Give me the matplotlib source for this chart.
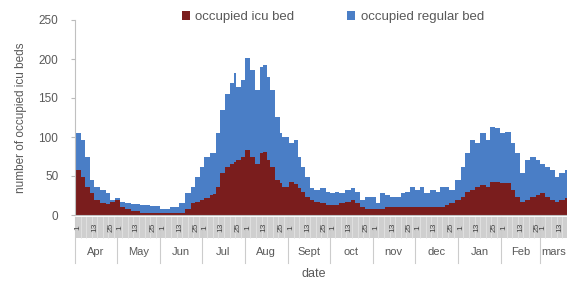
import matplotlib
matplotlib.use("Agg")
import matplotlib.pyplot as plt
import numpy as np

# day offsets from 1 April
days = [0, 4, 7, 11, 14, 18, 22, 25, 29, 32, 36, 40, 47, 54, 61, 68, 75, 79, 83, 86,
        90, 93, 97, 99, 101, 104, 108, 111, 114, 116, 119, 122, 126, 129, 133, 135, 138, 140, 144, 147,
        149, 154, 157, 160, 162, 165, 169, 172, 176, 180, 183, 187, 190, 194, 198, 201, 205, 208, 212, 216,
        219, 223, 226, 230, 234, 237, 241, 244, 248, 251, 255, 259, 262, 266, 269, 273, 277, 280, 284, 287,
        291, 295, 298, 302, 305, 309, 313, 316, 320, 323, 327, 331, 334, 338, 341, 345, 348, 352]
total_beds = [105, 96, 74, 45, 36, 32, 28, 19, 22, 17, 16, 14, 13, 12, 8, 10, 15, 28, 36, 49,
              62, 74, 79, 79, 105, 135, 155, 169, 182, 164, 173, 201, 186, 160, 190, 192, 177, 160, 126, 105,
              100, 92, 96, 74, 62, 49, 35, 32, 35, 30, 28, 30, 28, 32, 35, 30, 19, 23, 23, 15,
              28, 26, 23, 23, 28, 30, 36, 32, 36, 28, 32, 30, 36, 36, 32, 45, 62, 79, 96, 92,
              105, 96, 113, 111, 105, 106, 92, 79, 54, 70, 74, 70, 66, 62, 58, 49, 54, 58]
icu_beds = [58, 49, 36, 28, 19, 15, 14, 17, 19, 10, 8, 5, 3, 3, 3, 3, 3, 8, 15, 17,
            19, 22, 26, 27, 36, 54, 62, 66, 68, 70, 74, 83, 74, 66, 79, 81, 70, 62, 45, 41,
            36, 42, 40, 35, 30, 23, 19, 17, 15, 13, 13, 13, 15, 17, 19, 15, 10, 8, 8, 8,
            8, 10, 10, 10, 10, 10, 10, 10, 10, 10, 10, 10, 10, 13, 15, 19, 23, 30, 32, 36,
            38, 36, 42, 42, 41, 41, 32, 23, 17, 19, 23, 26, 28, 23, 19, 17, 19, 22]
regular_beds = [t - i for t, i in zip(total_beds, icu_beds)]

months = ["Apr", "May", "Jun", "Jul", "Aug", "Sept", "oct", "nov", "dec", "Jan", "Feb", "mars"]
month_lengths = [30, 31, 30, 31, 31, 30, 31, 30, 31, 31, 28, 31]
day_ticks = [1, 13, 25]
yticks = [0, 50, 100, 150, 200, 250]

ICU = "#7a1d1d"
REG = "#4a7ec6"
TXT = "#595959"

plt.rcParams['font.family'] = ['Liberation Sans', 'DejaVu Sans']

fig = plt.figure(figsize=(5.67, 2.83), dpi=100)
ax = fig.add_axes([75/567, 68/283, 1 - 75/567, 195/283])

x = np.array(days + [days[-1] + 3])
icu = np.array(icu_beds + [icu_beds[-1]])
reg = np.array(regular_beds + [regular_beds[-1]])
ax.fill_between(x, 0, icu, step="post", color=ICU, linewidth=0, label="occupied icu bed")
ax.fill_between(x, icu, icu + reg, step="post", color=REG, linewidth=0, label="occupied regular bed")

xmax = (567 - 75) / 1.392
ax.set_xlim(0, xmax)
ax.set_ylim(0, 250)
ax.set_yticks(yticks)
ax.set_yticklabels([str(v) for v in yticks], fontsize=8.5, color=TXT)
ax.tick_params(axis='y', length=3, color="#bbbbbb", pad=9)
ax.set_xticks([])
for s in ["top", "right"]:
    ax.spines[s].set_visible(False)
ax.spines["left"].set_color("#c0c0c0")
ax.spines["bottom"].set_color("#c0c0c0")
ax.set_ylabel("number of occupied icu beds", fontsize=8.5, color=TXT, labelpad=8)

# category axis band
trans = ax.get_xaxis_transform()
px = 1 / 195
ax.add_patch(plt.Rectangle((0, -23 * px), xmax, 21 * px, transform=trans,
                           facecolor="#cfcfcf", edgecolor="none", clip_on=False))
start = 0
for m, L in zip(months, month_lengths):
    for d in range(0, L, 4):
        pos = start + d
        if pos < xmax:
            ax.plot([pos, pos], [-2 * px, -23 * px], transform=trans, color="#e6e6e6",
                    lw=0.5, clip_on=False)
    for d in day_ticks:
        pos = start + d - 1
        if pos < xmax:
            ax.text(pos + 2, -12.5 * px, str(d), transform=trans, rotation=90,
                    fontsize=6, color="#444444", ha="center", va="center", clip_on=False)
    ax.plot([start, start], [-2 * px, -48 * px], transform=trans, color="#cccccc",
            lw=0.8, clip_on=False)
    if m == "mars":
        ax.text(start + 1, -37 * px, m, transform=trans,
                fontsize=8, color=TXT, ha="left", va="center", clip_on=False)
    else:
        ax.text(start + L / 2, -37 * px, m, transform=trans,
                fontsize=8, color=TXT, ha="center", va="center", clip_on=False)
    start += L

fig.text(314 / 567, 1 - 274 / 283, "date", fontsize=9, color=TXT, ha="center", va="center")

fig.legend(loc="center", bbox_to_anchor=(333 / 567, 1 - 17 / 283), ncol=2, frameon=False,
           fontsize=9.5, handlelength=0.6, handleheight=0.6, columnspacing=4,
           handletextpad=0.4, labelcolor=TXT)

fig.savefig("out.png", dpi=100)
